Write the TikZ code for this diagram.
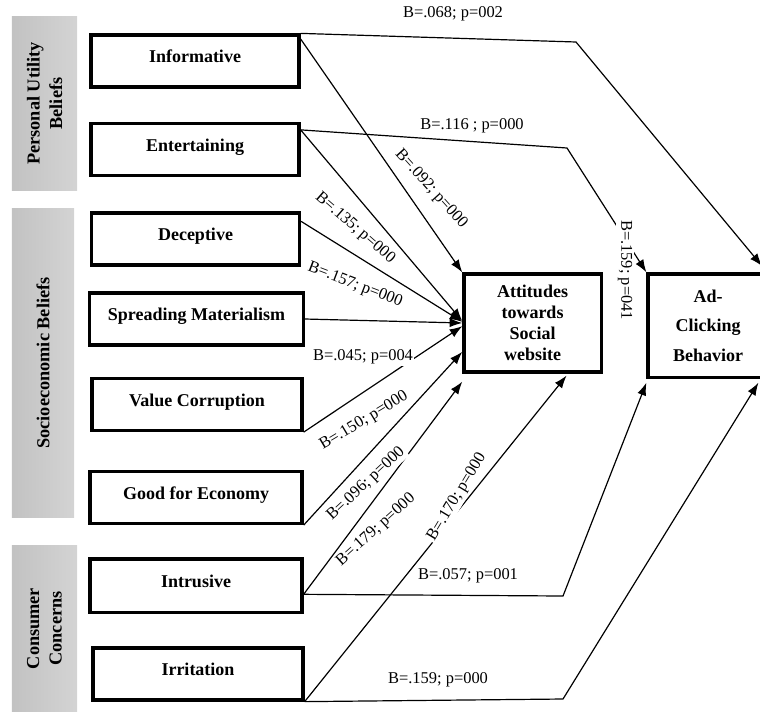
\documentclass[tikz,border=0pt]{standalone}
\usepackage{fontspec}
\setmainfont{Liberation Serif}
\usetikzlibrary{arrows.meta}

\tikzset{
	factor/.style={draw, line width=2.3pt, minimum width=5.2cm, minimum height=1.3cm, text height=0.3cm, text depth=0.22cm, font=\fontsize{12.8}{15}\selectfont\bfseries},
	outcome/.style={draw, line width=2.3pt, align=center, font=\fontsize{12.8}{15}\selectfont\bfseries},
	sidebox/.style={left color=black!24, right color=black!17, rotate=90, align=center, font=\fontsize{13}{16}\selectfont\bfseries},
	coef/.style={fill=white, inner sep=1pt, font=\fontsize{11.7}{13}\selectfont},
	arr/.style={line width=0.85pt, -{Latex[length=9pt,width=6.5pt]}}
}

\begin{document}
\begin{tikzpicture}[x=0.025cm, y=-0.025cm]
	\useasboundingbox (0,0) rectangle (760,711);

	% groups
	\node[sidebox, minimum width=4.33cm, minimum height=1.63cm] (pub) at (44.5,103.5) {Personal Utility\\Beliefs};
	\node[sidebox, minimum width=7.7cm, minimum height=1.55cm] (seb) at (43,363) {Socioeconomic Beliefs};
	\node[sidebox, minimum width=4.13cm, minimum height=1.63cm] (cc) at (44.5,628.5) {Consumer\\Concerns};

	% predictors
	\node[factor] (inf) at (195,61) {Informative};
	\node[factor] (ent) at (195,149.5) {Entertaining};
	\node[factor] (dec) at (195.5,239) {Deceptive};
	\node[factor, minimum width=5.33cm] (spr) at (196.5,319) {Spreading Materialism};
	\node[factor, minimum width=5.25cm] (val) at (197,404.5) {Value Corruption};
	\node[factor, minimum width=5.3cm] (eco) at (196,497.5) {Good for Economy};
	\node[factor, minimum width=5.3cm, minimum height=1.33cm] (intr) at (196,585.5) {Intrusive};
	\node[factor, minimum width=5.25cm] (irr) at (198,674) {Irritation};

	% outcomes
	\node[outcome, minimum width=3.43cm, minimum height=2.45cm] (att) at (532.5,323) {Attitudes\\towards\\Social\\website};
	\node[outcome, minimum width=3cm, minimum height=2.58cm] (ad) at (708,325.5) {Ad-\\[6pt]Clicking\\[6pt]Behavior};

	% bends
	\coordinate (b1) at (576,42);
	\coordinate (b2) at (567,148);
	\coordinate (b3) at (563,596);
	\coordinate (b4) at (563,699);
	\coordinate (t1) at (762,266);

	% paths to attitudes
	\draw[arr] ([yshift=-4pt]inf.north east) -- (att.north west);
	\draw[arr] ([yshift=-0.2cm]ent.north east) -- ([yshift=0.05cm]att.west);
	\draw[arr] ([yshift=-0.25cm]dec.north east) -- ([yshift=0.03cm]att.west);
	\draw[arr] (spr.east) -- (att.west);
	\draw[arr] (val.south east) -- ([yshift=-0.08cm]att.west);
	\draw[arr] (eco.south east) -- ([yshift=-0.72cm]att.west);
	\draw[arr] ([yshift=-0.22cm]intr.east) -- ([yshift=-0.2cm]att.south west);
	\draw[arr] (irr.south east) -- ([xshift=0.85cm, yshift=-0.05cm]att.south);

	% paths to ad-clicking
	\draw[arr] (inf.north east) -- (b1) -- (t1);
	\draw[arr] ([yshift=-0.2cm]ent.north east) -- (b2) -- (ad.north west);
	\draw[arr] ([yshift=-0.22cm]intr.east) -- (b3) -- ([yshift=-0.1cm]ad.south west);
	\draw[arr] (irr.south east) -- (b4) -- ([xshift=2.8cm, yshift=-0.1cm]ad.south west);

	% coefficients
	\node[coef] (c1) at (453,14) {B=.068; p=002};
	\node[coef] (c2) at (472,126) {B=.116 ; p=000};
	\node[coef, rotate=-48] (c3) at (431,189) {B=.092; p=000};
	\node[coef, rotate=-41] (c4) at (355,228) {B=.135; p=000};
	\node[coef, rotate=-21] (c5) at (355,285) {B=.157; p=000};
	\node[coef] (c6) at (363,357) {B=.045; p=004};
	\node[coef, rotate=31] (c7) at (364,421) {B=.150; p=000};
	\node[coef, rotate=43] (c8) at (366,484) {B=.096; p=000};
	\node[coef, rotate=42] (c9) at (376,530) {B=.179; p=000};
	\node[coef, rotate=59] (c10) at (457,497) {B=.170; p=000};
	\node[coef, rotate=-90] (c11) at (625,270) {B=.159; p=041};
	\node[coef] (c12) at (468,576) {B=.057; p=001};
	\node[coef] (c13) at (438,680) {B=.159; p=000};
\end{tikzpicture}
\end{document}
